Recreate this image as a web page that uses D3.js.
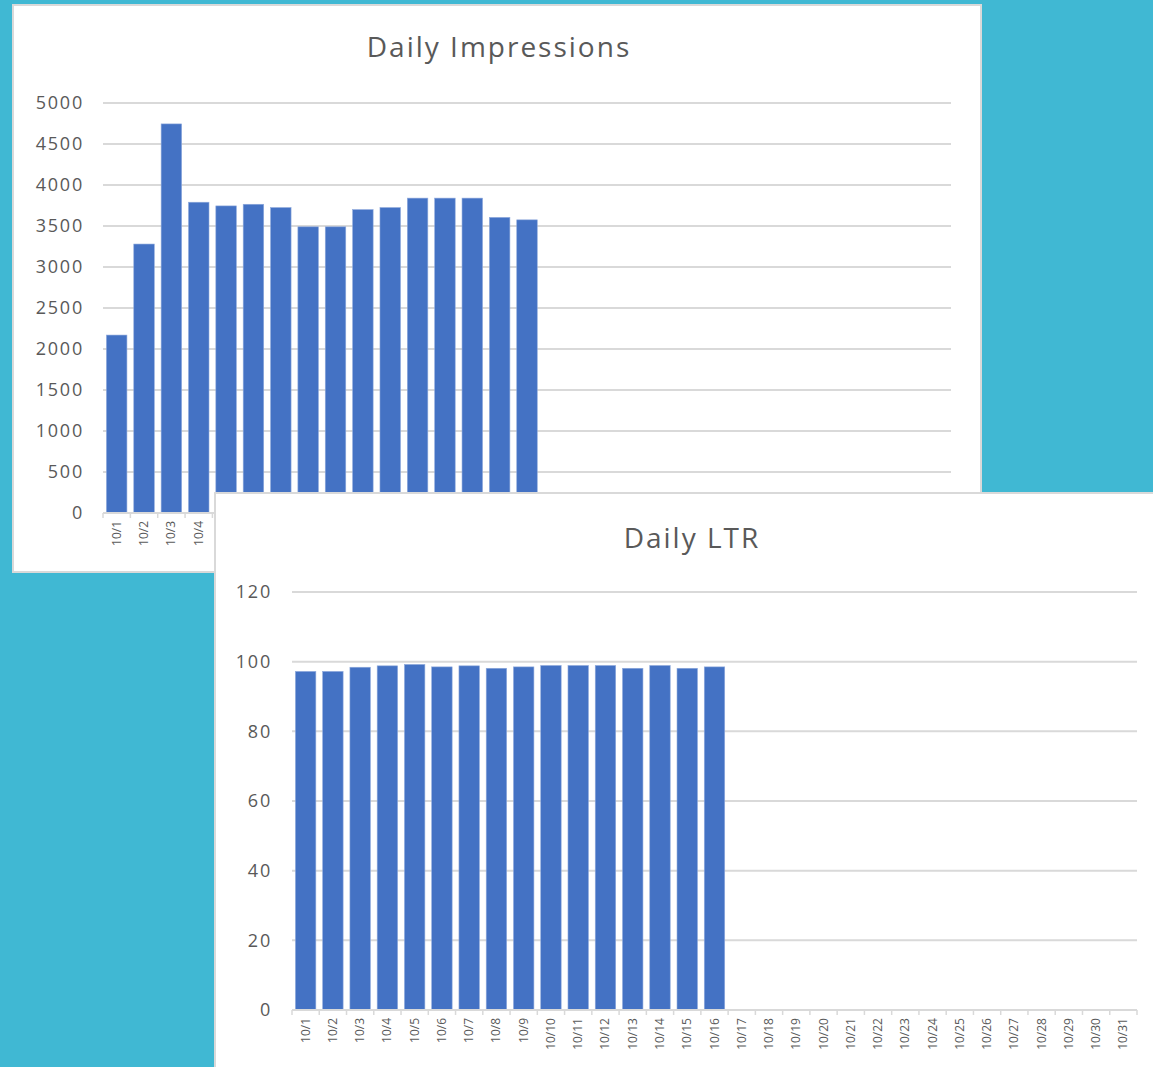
<!DOCTYPE html>
<html>
<head>
<meta charset="utf-8">
<script src="https://cdn.jsdelivr.net/npm/d3@7"></script>
<style>
  html, body { margin: 0; padding: 0; background: #40b8d3; }
  svg { display: block; }
  text { font-family: "Open Sans", "Noto Sans", sans-serif; fill: #595959; }
</style>
</head>
<body>
<svg id="chart"></svg>
<script>
const days = d3.range(1, 32).map(d => `10/${d}`);
const impressions = [2170, 3280, 4745, 3790, 3745, 3765, 3725, 3490, 3490, 3700, 3725, 3840, 3840, 3840, 3605, 3575];
const ltr = [97.2, 97.2, 98.4, 98.8, 99.2, 98.5, 98.8, 98.1, 98.5, 98.9, 98.9, 98.9, 98.1, 98.9, 98.1, 98.5];
const impTicks = d3.range(0, 5001, 500);
const ltrTicks = d3.range(0, 121, 20);

const W = 1153, H = 1067;
const svg = d3.select('#chart').attr('width', W).attr('height', H);

function drawPanel(cfg) {
  const g = svg.append('g');
  g.append('rect')
    .attr('x', cfg.px).attr('y', cfg.py)
    .attr('width', cfg.pw).attr('height', cfg.ph)
    .attr('fill', '#fff').attr('stroke', '#d9d9d9').attr('stroke-width', 2);

  g.append('text')
    .attr('x', cfg.titleX).attr('y', cfg.titleY)
    .attr('text-anchor', 'middle')
    .style('font-size', '28px')
    .style('letter-spacing', '2px')
    .text(cfg.title);

  const x = d3.scaleBand().domain(days).range([cfg.left, cfg.right]).paddingInner(0.25).paddingOuter(0.125);
  const y = d3.scaleLinear().domain([0, cfg.max]).range([cfg.bottom, cfg.top]);

  // gridlines
  g.append('g').selectAll('line').data(cfg.ticks.filter(t => t > 0)).join('line')
    .attr('x1', cfg.left).attr('x2', cfg.right)
    .attr('y1', d => y(d)).attr('y2', d => y(d))
    .attr('stroke', '#d9d9d9').attr('stroke-width', 2);

  // y labels
  g.append('g').selectAll('text').data(cfg.ticks).join('text')
    .attr('x', cfg.labelX).attr('y', d => y(d))
    .attr('dy', '0.35em').attr('text-anchor', 'end')
    .style('font-size', '18px')
    .style('letter-spacing', '1.8px')
    .text(d => d);

  // bars
  g.append('g').selectAll('rect').data(cfg.values).join('rect')
    .attr('x', (d, i) => x(days[i]))
    .attr('width', x.bandwidth())
    .attr('y', d => y(d))
    .attr('height', d => y(0) - y(d))
    .attr('fill', '#4472c4')
    .attr('stroke', '#8faadc').attr('stroke-width', 0.6);

  // x axis
  const step = x.step();
  g.append('line')
    .attr('x1', cfg.left).attr('x2', cfg.right)
    .attr('y1', cfg.bottom).attr('y2', cfg.bottom)
    .attr('stroke', '#d9d9d9').attr('stroke-width', 2);
  g.append('g').selectAll('line').data(d3.range(days.length + 1)).join('line')
    .attr('x1', i => cfg.left + i * step).attr('x2', i => cfg.left + i * step)
    .attr('y1', cfg.bottom).attr('y2', cfg.bottom + 5)
    .attr('stroke', '#d9d9d9').attr('stroke-width', 1.5);
  g.append('g').selectAll('text').data(days).join('text')
    .attr('transform', d => `translate(${x(d) + x.bandwidth() / 2 + 4},${cfg.bottom + 8}) rotate(-90)`)
    .attr('text-anchor', 'end')
    .style('font-size', '12px')
    .text(d => d);
}

drawPanel({
  px: 13, py: 5, pw: 968, ph: 567,
  title: 'Daily Impressions', titleX: 499, titleY: 57,
  left: 103, right: 951, top: 103, bottom: 513,
  max: 5000, ticks: impTicks, values: impressions, labelX: 84
});

drawPanel({
  px: 215, py: 493, pw: 960, ph: 600,
  title: 'Daily LTR', titleX: 692, titleY: 548,
  left: 292, right: 1137, top: 592, bottom: 1010,
  max: 120, ticks: ltrTicks, values: ltr, labelX: 272
});
</script>
</body>
</html>
